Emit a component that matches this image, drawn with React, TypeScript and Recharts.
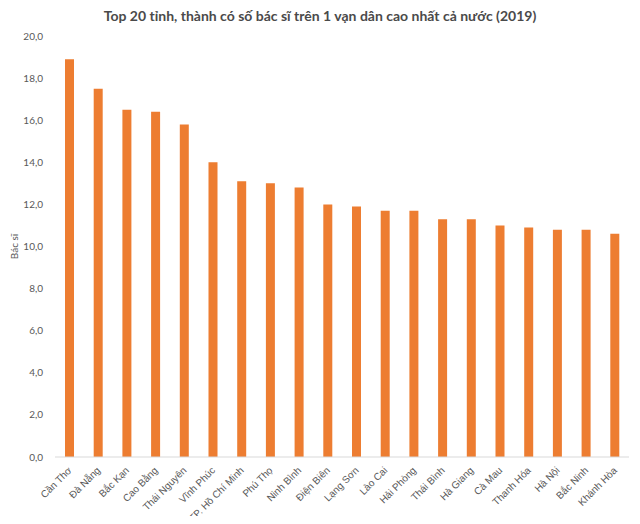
import { BarChart, Bar, XAxis, YAxis, Label } from 'recharts';

const provinces = [
  'Cần Thơ', 'Đà Nẵng', 'Bắc Kạn', 'Cao Bằng', 'Thái Nguyên', 'Vĩnh Phúc',
  'TP. Hồ Chí Minh', 'Phú Thọ', 'Ninh Bình', 'Điện Biên', 'Lạng Sơn', 'Lào Cai',
  'Hải Phòng', 'Thái Bình', 'Hà Giang', 'Cà Mau', 'Thanh Hóa', 'Hà Nội',
  'Bắc Ninh', 'Khánh Hòa',
];
const doctors = [
  18.9, 17.5, 16.5, 16.4, 15.8, 14.0, 13.1, 13.0, 12.8, 12.0, 11.9, 11.7,
  11.7, 11.3, 11.3, 11.0, 10.9, 10.8, 10.8, 10.6,
];
const yTicks = [0, 2, 4, 6, 8, 10, 12, 14, 16, 18, 20];

const data = provinces.map((name, i) => ({ name, value: doctors[i] }));

const font = 'Lato, "Open Sans", sans-serif';

const XTick = (props: any) => {
  const { x, y, payload } = props;
  return (
    <text
      x={x + 3}
      y={y + 6}
      textAnchor="end"
      fill="#595959"
      fontSize={10}
      fontFamily='"Liberation Sans", Arial, sans-serif'
      transform={`rotate(-45, ${x + 3}, ${y + 6})`}
    >
      {payload.value}
    </text>
  );
};

export default function App() {
  return (
    <div style={{ margin: -8, width: 640, height: 524, background: '#fff', position: 'relative' }}>
      <div
        style={{
          position: 'absolute',
          top: 7,
          width: 640,
          textAlign: 'center',
          fontFamily: font,
          fontWeight: 'bold',
          fontSize: 14,
          color: '#4a4a4a',
        }}
      >
        Top 20 tỉnh, thành có số bác sĩ trên 1 vạn dân cao nhất cả nước (2019)
      </div>
      <BarChart
        width={640}
        height={524}
        data={data}
        margin={{ top: 36, right: 11, bottom: 0, left: 10 }}
        barCategoryGap={0}
      >
        <XAxis
          dataKey="name"
          interval={0}
          tick={<XTick />}
          tickLine={false}
          axisLine={{ stroke: '#d9d9d9' }}
          height={67}
        />
        <YAxis
          domain={[0, 20]}
          ticks={yTicks}
          width={45}
          axisLine={false}
          tickLine={false}
          tickMargin={6}
          tick={{ fill: '#595959', fontSize: 10, fontFamily: font }}
          tickFormatter={(v: number) => v.toFixed(1).replace('.', ',')}
        >
          <Label
            value="Bác sĩ"
            angle={-90}
            position="insideLeft"
            offset={4}
            style={{ fill: '#595959', fontSize: 10, fontFamily: font, textAnchor: 'middle' }}
          />
        </YAxis>
        <Bar dataKey="value" fill="#ED7D31" barSize={9} isAnimationActive={false} />
      </BarChart>
    </div>
  );
}
